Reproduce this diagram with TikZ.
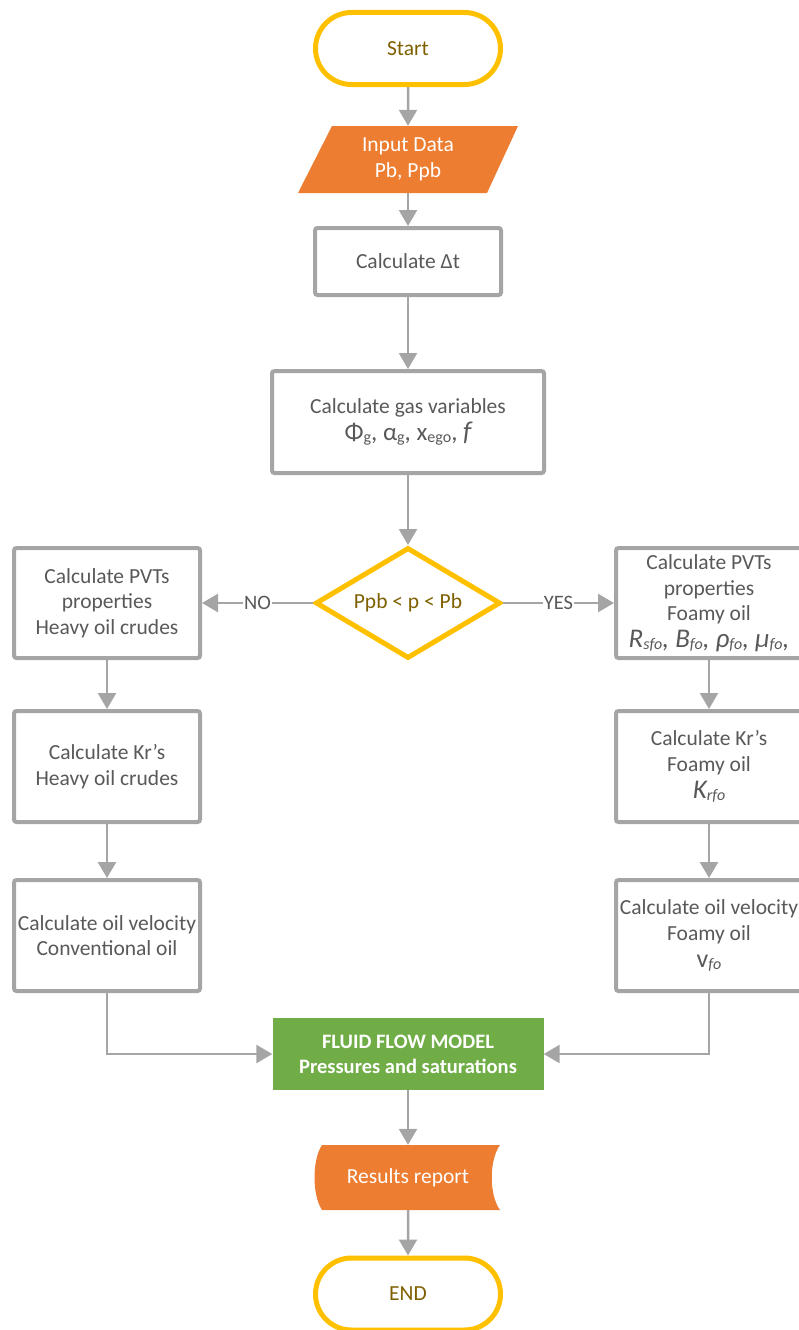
\documentclass[tikz,border=0pt]{standalone}
\usepackage{fontspec}
\setmainfont{Carlito}
\usetikzlibrary{shapes.geometric,shapes.misc,arrows.meta}
\definecolor{bordergray}{HTML}{A5A5A5}
\definecolor{txtgray}{HTML}{595959}
\definecolor{gold}{HTML}{FFC000}
\definecolor{golddark}{HTML}{7F6000}
\definecolor{orng}{HTML}{ED7D31}
\definecolor{grn}{HTML}{70AD47}
\newcommand\sbx[1]{\raisebox{-2pt}{\fontsize{16}{16}\selectfont #1}}
\begin{document}
\begin{tikzpicture}[x=1pt,y=-1pt,
 every node/.style={font=\fontsize{21.5}{25.5}\selectfont},
 procbox/.style={draw=bordergray,line width=4pt,rounded corners=2.5pt,fill=white,text=txtgray,align=center,minimum width=186pt,inner sep=0pt},
 term/.style={rounded rectangle,draw=gold,line width=5pt,fill=white,text=golddark,minimum width=185pt,minimum height=72pt,inner sep=0pt},
 conn/.style={draw=bordergray,line width=2.5pt,-{Triangle[width=18pt,length=16pt]}},
 lbl/.style={fill=white,text=txtgray,inner sep=1pt,font=\fontsize{20.5}{20.5}\selectfont}]
\useasboundingbox (0,0) rectangle (798,1330);
% terminals
\node[term] (start) at (408,48.5) {Start};
\node[term] (stop) at (408,1294) {END};
% input parallelogram
\fill[orng] (332,126) -- (518,126) -- (487,193) -- (298,193) -- cycle;
\node[text=white,align=center,minimum width=150pt,minimum height=67pt,inner sep=0pt] (input) at (408,159.5) {Input Data\\Pb, Ppb};
% process boxes
\node[procbox,minimum height=67pt] (dt) at (408,261.5) {Calculate Δt};
\node[procbox,minimum width=272pt,minimum height=102pt] (gas) at (408,422) {Calculate gas variables\\[1pt]{\fontsize{25}{28}\selectfont Φ\sbx{g}, α\sbx{g}, x\sbx{ego}, {\fontsize{27}{28}\selectfont\itshape f}}};
\node[diamond,draw=gold,line width=5pt,fill=white,text=golddark,minimum width=185pt,minimum height=111pt,inner sep=0pt,aspect=1.67] (dec) at (408,603) {Ppb {<} p {<} Pb};
\node[procbox,minimum height=110pt] (lpvt) at (107,603) {Calculate PVTs\\properties\\Heavy oil crudes};
\node[procbox,minimum height=111pt] (lkr) at (107,766.5) {Calculate Kr’s\\Heavy oil crudes};
\node[procbox,minimum height=111pt] (lvel) at (107,935.5) {Calculate oil velocity\\Conventional oil};
\node[procbox,minimum height=110pt] (rpvt) at (709,603) {Calculate PVTs\\properties\\Foamy oil\\[1pt]{\fontsize{27}{28}\selectfont\itshape R\sbx{sfo}, B\sbx{fo}, ρ\sbx{fo}, μ\sbx{fo},}};
\node[procbox,minimum height=111pt] (rkr) at (709,766.5) {Calculate Kr’s\\Foamy oil\\[2pt]{\fontsize{27}{28}\selectfont\itshape K\sbx{rfo}}};
\node[procbox,minimum height=111pt] (rvel) at (709,935.5) {Calculate oil velocity\\Foamy oil\\[2pt]{\fontsize{26}{28}\selectfont v\sbx{\itshape fo}}};
\node[fill=grn,text=white,font=\bfseries\fontsize{20.5}{25}\selectfont,minimum width=271pt,minimum height=72pt,align=center,inner sep=0pt] (green) at (408,1054) {FLUID FLOW MODEL\\Pressures and saturations};
% results report
\fill[orng] (322,1145) -- (500,1145) .. controls (489,1160) and (489,1195) .. (500,1210) -- (322,1210) .. controls (312,1195) and (312,1160) .. (322,1145) -- cycle;
\node[text=white,minimum width=150pt,minimum height=65pt,inner sep=0pt] (res) at (408,1177.5) {Results report};
% connectors
\draw[conn] (start) -- (input);
\draw[conn] (input) -- (dt);
\draw[conn] (dt) -- (gas);
\draw[conn] (gas) -- (dec);
\draw[conn] (dec) -- node[lbl]{NO} (lpvt);
\draw[conn] (dec) -- node[lbl]{YES} (rpvt);
\draw[conn] (lpvt) -- (lkr);
\draw[conn] (lkr) -- (lvel);
\draw[conn] (rpvt) -- (rkr);
\draw[conn] (rkr) -- (rvel);
\draw[conn] (lvel.south) |- (green.west);
\draw[conn] (rvel.south) |- (green.east);
\draw[conn] (green) -- (res);
\draw[conn] (res) -- (stop);
\end{tikzpicture}
\end{document}
